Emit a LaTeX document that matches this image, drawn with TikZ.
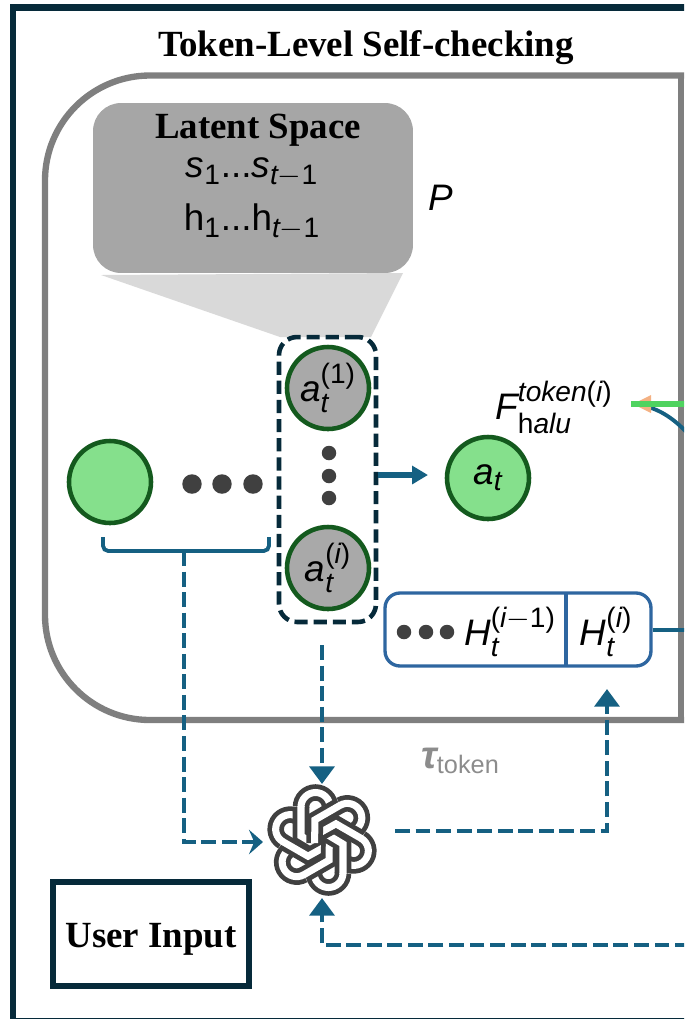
\documentclass[tikz,border=0pt]{standalone}
\usepackage{amsmath}
\usepackage{fontspec}
\setmainfont{Liberation Serif}
\setsansfont{Liberation Sans}
\usetikzlibrary{arrows.meta, positioning}
\definecolor{framenavy}{HTML}{062A3A}
\definecolor{flowteal}{HTML}{156082}
\definecolor{boxblue}{HTML}{2E66A0}
\definecolor{leafgreen}{HTML}{145A1E}
\definecolor{lightgreen}{HTML}{85E08C}
\definecolor{tokengray}{HTML}{A9A9A9}
\definecolor{latentgray}{HTML}{A6A6A6}
\definecolor{wedgegray}{HTML}{D9D9D9}
\definecolor{panelgray}{HTML}{7F7F7F}
\definecolor{dotdark}{HTML}{404040}
\definecolor{scoreorange}{HTML}{F4B183}
\definecolor{scoregreen}{HTML}{4FD35F}
\DeclareMathSizes{21}{21}{16}{12}
\newcommand{\sv}[1]{\text{\sffamily\itshape #1}}
\newcommand{\sr}[1]{\text{\sffamily #1}}
\begin{document}
\begin{tikzpicture}[
		x=0.02cm, y=-0.02cm,
		headline/.style={font=\bfseries\fontsize{21}{24}\selectfont, text=black, inner sep=0pt},
		symbol/.style={font=\sffamily\fontsize{21}{24}\selectfont, text=black, inner sep=0pt},
		tokencircle/.style={circle, draw=leafgreen, line width=2.6pt, minimum size=1.64cm, inner sep=0pt, font=\sffamily\fontsize{21}{24}\selectfont},
		graytoken/.style={tokencircle, fill=tokengray},
		greentoken/.style={tokencircle, fill=lightgreen},
		dot/.style={circle, fill=dotdark, minimum size=0.29cm, inner sep=0pt},
		bigdot/.style={circle, fill=dotdark, minimum size=0.39cm, inner sep=0pt},
		flow/.style={-{Triangle[length=9pt, width=10pt]}, line width=3pt, color=flowteal},
		dashflow/.style={-{Triangle[length=10pt, width=14pt]}, line width=2.8pt, color=flowteal, dash pattern=on 8.5pt off 3.2pt},
		knot/.style={draw=dotdark, line width=9.4pt},
		knotin/.style={draw=white, line width=4pt}
	]
	\useasboundingbox (0,0) rectangle (684,1019);
	\clip (0,0) rectangle (684,1019);

	% frame and panel
	\draw[framenavy, line width=3.6pt] (13,7.5) rectangle (710,1021.3);
	\draw[panelgray, line width=3.6pt, rounded corners=2.1cm] (720,75.5) -- (45,75.5) -- (45,720) -- (720,720);
	\draw[panelgray, line width=3.6pt] (681,75.5) -- (681,720);
	\node[headline] (title) at (366,48) {Token-Level Self-checking};

	% latent space
	\fill[wedgegray] (101,275) -- (403,273) -- (371,337) -- (280,337) -- cycle;
	\node[fill=latentgray, rounded corners=0.56cm, minimum width=6.4cm, minimum height=3.4cm] (latent) at (253,188) {};
	\node[headline] (latenttitle) at (258,130) {Latent Space};
	\node[symbol] (states) at (252,172) {$\sv{s}_{\sr{1}}\sr{...}\sv{s}_{\sv{t}-\sr{1}}$};
	\node[symbol] (hidden) at (252,222) {$\sr{h}_{\sr{1}}\sr{...}\sr{h}_{\sv{t}-\sr{1}}$};
	\node[symbol, font=\sffamily\itshape\fontsize{21}{24}\selectfont] (prompt) at (441,198) {P};

	% tokens
	\node[graytoken] (first) at (328,388) {$\sv{a}_{\sv{t}}^{\sr{(1)}}$};
	\node[graytoken] (sampled) at (328,568) {$\sv{a}_{\sv{t}}^{\sr{(\sv{i})}}$};
	\node[greentoken] (chosen) at (488,478) {$\sv{a}_{\sv{t}}$};
	\node[greentoken] (earlier) at (110,482) {};
	\node[dot] (vdota) at (329,453) {};
	\node[dot] (vdotb) at (329,476) {};
	\node[dot] (vdotc) at (329,498) {};
	\node[bigdot] (hdota) at (192,484) {};
	\node[bigdot] (hdotb) at (222,484) {};
	\node[bigdot] (hdotc) at (253,484) {};
	\node[draw=framenavy, line width=2.6pt, dash pattern=on 7.5pt off 3.4pt, rounded corners=0.36cm, minimum width=1.94cm, minimum height=5.7cm] (candidates) at (327.5,479.5) {};
	\coordinate (chosenin) at (428,475);
	\draw[flow] (candidates.east |- chosenin) -- (chosenin);

	% hallucination score
	\node[symbol] (score) at (554,407) {$\sv{F}_{\sr{h}\sv{alu}}^{\sv{token}\sr{(}\sv{i}\sr{)}}$};
	\coordinate (scoreout) at (690,404);
	\coordinate (scorein) at (633,404);
	\coordinate (curveout) at (690,436);
	\draw[flowteal, line width=2.2pt] (curveout) .. controls (674,418) and (660,410) .. (645,406);
	\fill[scoreorange] (651,395) -- (scorein) -- (651,413) -- cycle;
	\draw[scoregreen, line width=3.2pt] (631,404) -- (scoreout);

	% history
	\node[draw=boxblue, fill=white, line width=1.9pt, rounded corners=0.3cm, minimum width=5.32cm, minimum height=1.46cm] (history) at (518,629.5) {};
	\coordinate (divtop) at (566,593);
	\coordinate (divbot) at (566,666);
	\draw[boxblue, line width=1.9pt] (divtop) -- (divbot);
	\node[dot] (bdota) at (404,632) {};
	\node[dot] (bdotb) at (426,632) {};
	\node[dot] (bdotc) at (447,632) {};
	\node[symbol] (prevH) at (510,632) {$\sv{H}_{\sv{t}}^{\sr{(\sv{i}}-\sr{1)}}$};
	\node[symbol] (curH) at (606,632) {$\sv{H}_{\sv{t}}^{\sr{(\sv{i})}}$};
	\coordinate (historyout) at (690,630);
	\draw[flowteal, line width=2.2pt] (history.east |- historyout) -- (historyout);

	% bracket
	\coordinate (bracketl) at (103,537);
	\coordinate (bracketr) at (269,537);
	\coordinate (bracketm) at (184,551);
	\draw[flowteal, line width=2.2pt, rounded corners=3pt] (bracketl) -- (103,551) -- (269,551) -- (bracketr);

	% model
	\node[circle, minimum size=2.16cm, inner sep=0pt] (model) at (322,840) {};
	\begin{scope}[shift={(model.center)}]
		\foreach \ang in {0,60,...,300}
			\draw[knot, rotate=\ang] (-21,-33) arc[start angle=180, end angle=395, radius=14.5];
		\foreach \ang in {0,60,...,300}
			\draw[knotin, rotate=\ang] (-21,-33) arc[start angle=180, end angle=395, radius=14.5];
		\foreach \ang in {0,60,...,300} {
			\draw[knot, rotate=\ang] (-1,8) -- (-21,-4) -- (-21,-33);
			\draw[knotin, rotate=\ang] (-1,8) -- (-21,-4) -- (-21,-34);
		}
	\end{scope}

	% dashed flows
	\coordinate (modelleft) at (263,842);
	\coordinate (modeltop) at (322,784);
	\coordinate (modelbot) at (322,898);
	\coordinate (candout) at (322,645);
	\coordinate (modelout) at (395,831);
	\coordinate (historyin) at (607,689);
	\coordinate (feedback) at (690,945);
	\draw[dashflow, -{Stealth[length=8pt, width=14pt, inset=3pt]}] (bracketm) |- (modelleft);
	\draw[dashflow] (candout) -- (modeltop);
	\draw[dashflow] (modelout) -| (historyin);
	\draw[dashflow] (feedback) -| (modelbot);
	\node[inner sep=0pt, text=panelgray!90!white] (threshold) at (460,761) {\sffamily{\bfseries\itshape\fontsize{22}{24}\selectfont τ}\raisebox{-3pt}{\fontsize{14.4}{16}\selectfont token}};

	% user input
	\node[draw=framenavy, line width=3.6pt, minimum width=3.92cm, minimum height=2.08cm, headline, inner sep=0pt, text depth=0pt] (userinput) at (151,934) {\raisebox{-2pt}{User Input}};
\end{tikzpicture}
\end{document}
